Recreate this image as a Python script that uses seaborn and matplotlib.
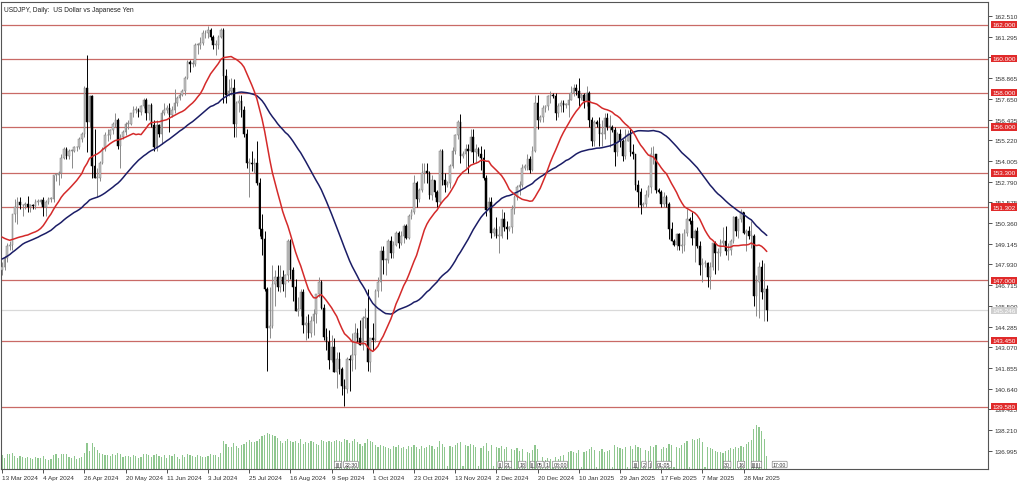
import numpy as np
import pandas as pd
import matplotlib
matplotlib.use("Agg")
import matplotlib.pyplot as plt
import matplotlib.transforms as mtransforms
import seaborn as sns

# USDJPY daily bars, 13 Mar 2024 .. 10 Apr 2025 (broker adds short sunday bars Nov..Mar)
opens = [
    147.6, 147.8, 148.3, 149.0, 149.1, 150.9, 151.3, 151.6, 151.4, 151.4,
    151.5, 151.3, 151.4, 151.35, 151.6, 151.6, 151.7, 151.3, 151.6, 151.8,
    151.8, 153.2, 153.2, 153.3, 154.2, 154.7, 154.3, 154.6, 154.6, 154.8,
    154.8, 155.3, 155.6, 158.3, 156.3, 157.8, 153.7, 153.0, 153.0, 153.9,
    154.7, 155.5, 155.5, 155.8, 156.2, 156.4, 154.9, 155.4, 155.7, 156.2,
    156.2, 156.8, 157.0, 157.0, 156.9, 157.2, 157.6, 156.8, 157.3, 156.1,
    154.8, 156.1, 155.6, 156.8, 157.0, 157.1, 156.7, 157.0, 157.4, 157.7,
    157.9, 158.1, 158.9, 159.8, 159.7, 159.7, 160.8, 160.8, 160.9, 161.5,
    161.5, 161.7, 161.3, 160.8, 160.8, 161.3, 161.7, 159.0, 157.9, 158.1,
    158.3, 156.2, 157.4, 157.5, 157.0, 155.6, 153.9, 153.9, 153.8, 153.9,
    152.7, 150.0, 149.4, 146.5, 144.2, 144.3, 146.8, 147.2, 146.6, 147.2,
    146.8, 147.3, 149.3, 147.6, 146.6, 145.2, 145.3, 146.3, 144.4, 144.5,
    143.9, 144.6, 145.0, 146.2, 146.9, 145.4, 143.7, 143.4, 142.3, 143.1,
    141.6, 142.4, 141.8, 140.8, 140.6, 142.4, 142.3, 142.6, 143.9, 143.6,
    143.2, 144.8, 144.8, 142.2, 143.6, 143.5, 146.4, 146.9, 148.7, 148.2,
    148.2, 149.3, 148.6, 149.1, 149.8, 149.2, 149.6, 150.2, 149.5, 150.8,
    151.0, 152.7, 151.8, 152.3, 153.3, 153.4, 153.3, 152.0, 152.9, 152.2,
    151.6, 154.6, 152.9, 152.6, 152.7, 153.7, 154.6, 155.5, 156.3, 154.3,
    154.4, 154.7, 154.6, 155.4, 154.5, 154.7, 154.4, 154.2, 153.0, 151.1,
    151.6, 149.8, 150.0, 149.6, 149.6, 150.6, 150.1, 150.0, 150.1, 151.2,
    151.9, 152.5, 152.6, 153.6, 153.7, 154.1, 153.5, 154.6, 157.4, 156.4,
    156.6, 157.1, 157.2, 157.8, 157.9, 157.8, 156.8, 157.2, 157.4, 157.3,
    157.3, 157.6, 158.0, 158.3, 158.1, 157.7, 157.9, 157.5, 158.0, 156.4,
    155.2, 156.3, 156.2, 155.6, 155.6, 156.5, 156.0, 156.0, 155.8, 154.5,
    155.6, 155.2, 154.3, 155.2, 155.6, 154.5, 154.4, 152.6, 152.2, 151.4,
    151.5, 152.0, 152.5, 154.4, 154.4, 152.3, 152.2, 151.5, 151.9, 151.5,
    150.0, 149.3, 149.1, 149.7, 149.0, 149.1, 149.8, 150.6, 150.5, 149.5,
    149.9, 149.0, 147.9, 148.0, 148.0, 147.2, 147.8, 149.2, 148.6, 148.6,
    149.2, 149.3, 148.7, 148.8, 149.3, 150.7, 149.9, 150.6, 151.0, 149.8,
    149.9, 149.6, 149.6, 146.1, 146.9, 147.8, 146.3, 146.5,
]
highs = [
    148.1, 148.4, 149.2, 149.3, 150.9, 151.8, 151.9, 151.9, 151.5, 151.6,
    151.97, 151.5, 151.5, 151.8, 151.8, 151.8, 151.9, 151.7, 151.9, 151.9,
    153.2, 153.3, 153.4, 154.4, 154.8, 154.8, 154.7, 154.7, 154.9, 154.9,
    155.4, 155.7, 158.4, 160.2, 157.9, 157.9, 155.9, 153.6, 154.0, 154.8,
    155.7, 155.9, 155.9, 156.3, 156.8, 156.5, 155.6, 155.8, 156.3, 156.4,
    156.8, 157.2, 157.2, 157.1, 157.3, 157.7, 157.7, 157.3, 157.4, 156.4,
    156.4, 156.2, 157.0, 157.4, 157.3, 157.4, 157.2, 158.2, 157.8, 158.0,
    158.2, 159.0, 159.9, 159.9, 159.9, 160.9, 160.9, 161.3, 161.7, 161.7,
    161.95, 161.8, 161.4, 161.1, 161.4, 161.8, 161.8, 159.4, 158.8, 158.9,
    158.8, 157.5, 157.9, 157.9, 157.2, 155.9, 154.2, 154.6, 154.2, 155.2,
    153.0, 150.9, 149.9, 146.6, 146.6, 147.9, 147.6, 147.9, 147.9, 147.6,
    147.4, 149.4, 149.4, 147.8, 147.1, 146.0, 146.5, 146.5, 144.9, 145.0,
    144.9, 145.3, 146.2, 147.2, 147.0, 145.6, 144.2, 144.1, 143.8, 143.6,
    142.8, 142.8, 141.9, 141.2, 142.5, 142.6, 143.9, 144.5, 144.2, 144.7,
    144.9, 145.4, 146.5, 143.5, 144.5, 146.5, 147.2, 149.0, 149.0, 148.3,
    149.4, 149.6, 149.3, 149.9, 149.9, 149.9, 150.3, 150.3, 150.9, 151.2,
    153.2, 152.8, 152.4, 153.9, 153.9, 153.9, 153.4, 153.2, 152.9, 152.3,
    154.7, 154.7, 153.3, 152.8, 153.8, 154.8, 155.6, 156.4, 156.75, 154.6,
    155.0, 155.0, 155.9, 155.9, 155.0, 154.8, 154.9, 154.7, 153.2, 151.9,
    151.9, 150.1, 150.7, 150.2, 151.2, 151.0, 150.5, 150.2, 151.4, 152.0,
    152.6, 152.8, 153.8, 153.8, 154.4, 154.3, 154.9, 157.9, 157.9, 156.7,
    157.3, 157.3, 157.9, 158.1, 158.0, 158.0, 157.4, 157.6, 157.6, 157.4,
    158.0, 158.4, 158.5, 158.5, 158.9, 158.0, 158.0, 158.4, 158.1, 156.6,
    156.4, 156.4, 156.6, 156.4, 156.8, 156.8, 156.7, 156.1, 156.0, 155.7,
    155.9, 155.3, 155.9, 155.8, 155.9, 155.0, 154.4, 152.9, 152.4, 151.6,
    152.3, 152.6, 154.8, 154.9, 154.4, 152.4, 152.3, 152.2, 152.0, 151.6,
    150.4, 149.4, 149.8, 149.8, 149.8, 150.0, 151.2, 150.7, 151.0, 150.0,
    150.1, 149.3, 148.3, 148.2, 148.1, 148.1, 149.2, 149.3, 148.9, 149.4,
    150.1, 150.2, 149.2, 149.4, 150.8, 150.8, 150.6, 151.2, 151.0, 150.0,
    150.2, 150.5, 149.7, 147.3, 148.1, 148.2, 148.0, 146.7,
]
lows = [
    147.3, 147.6, 148.1, 148.8, 148.8, 150.4, 150.3, 151.2, 150.8, 151.2,
    151.0, 151.0, 151.2, 151.2, 151.4, 151.5, 150.8, 150.8, 151.5, 151.6,
    151.6, 152.8, 152.6, 153.0, 154.1, 154.1, 154.1, 153.6, 154.5, 154.6,
    154.7, 155.1, 155.4, 154.5, 156.0, 153.0, 153.0, 151.9, 152.8, 153.8,
    154.6, 155.2, 155.3, 155.6, 156.0, 154.7, 153.6, 155.3, 155.5, 155.9,
    156.1, 156.6, 156.8, 156.6, 156.7, 157.1, 156.4, 156.4, 156.0, 154.6,
    154.6, 155.4, 155.0, 156.7, 156.8, 155.7, 156.6, 156.8, 157.2, 157.6,
    157.8, 157.9, 158.8, 159.2, 159.5, 159.6, 160.3, 160.6, 160.8, 161.2,
    161.2, 161.1, 160.6, 160.2, 160.6, 161.2, 157.4, 157.4, 157.8, 157.9,
    155.4, 155.4, 156.9, 156.6, 155.4, 153.6, 151.9, 153.4, 153.3, 152.6,
    149.6, 148.5, 146.4, 141.7, 143.6, 144.2, 145.5, 146.4, 146.3, 146.4,
    146.0, 146.9, 147.1, 145.8, 145.2, 144.9, 144.9, 143.9, 143.5, 143.6,
    143.7, 143.8, 144.5, 146.0, 145.3, 143.5, 142.9, 141.8, 142.2, 141.6,
    140.7, 141.5, 140.3, 139.6, 140.4, 140.5, 141.7, 141.8, 143.4, 143.2,
    142.9, 144.2, 141.7, 141.6, 142.9, 143.4, 146.0, 146.4, 147.4, 147.3,
    148.0, 148.3, 148.3, 149.0, 148.9, 149.1, 149.2, 149.4, 149.4, 150.6,
    150.9, 151.3, 151.6, 152.2, 152.7, 152.7, 151.8, 151.7, 151.9, 151.3,
    151.5, 152.6, 152.2, 152.5, 152.4, 153.6, 154.4, 155.3, 153.9, 154.2,
    153.6, 153.3, 154.5, 153.9, 153.9, 154.3, 153.5, 152.9, 150.8, 151.0,
    149.5, 149.6, 149.5, 148.6, 149.5, 149.9, 149.4, 149.9, 149.8, 150.9,
    151.7, 152.0, 152.5, 153.5, 153.5, 153.3, 153.4, 154.5, 155.9, 156.3,
    156.3, 156.9, 157.0, 157.4, 157.7, 156.4, 156.6, 156.9, 156.9, 157.1,
    156.6, 157.6, 157.8, 157.9, 157.2, 157.6, 157.1, 157.2, 156.0, 154.9,
    154.9, 156.0, 154.9, 154.9, 155.3, 155.8, 154.8, 155.7, 153.7, 154.3,
    154.8, 154.0, 154.1, 155.2, 154.3, 154.1, 152.3, 151.3, 150.9, 151.3,
    151.3, 151.9, 152.1, 153.8, 152.1, 152.1, 151.3, 151.3, 151.3, 149.4,
    149.3, 149.0, 148.8, 148.8, 148.6, 148.7, 149.6, 150.3, 149.1, 148.1,
    148.9, 147.3, 146.9, 147.8, 146.6, 146.5, 147.6, 147.4, 147.6, 148.4,
    149.0, 148.5, 148.2, 148.5, 149.2, 149.6, 149.5, 150.4, 149.7, 148.7,
    149.4, 148.9, 145.5, 144.9, 144.8, 145.9, 144.6, 144.6,
]
closes = [
    147.8, 148.3, 149.0, 149.1, 150.9, 151.3, 151.6, 151.4, 151.4, 151.5,
    151.3, 151.4, 151.35, 151.6, 151.6, 151.7, 151.3, 151.6, 151.8, 151.8,
    153.2, 153.2, 153.3, 154.2, 154.7, 154.3, 154.6, 154.6, 154.8, 154.8,
    155.3, 155.6, 158.3, 156.3, 157.8, 153.7, 153.0, 153.0, 153.9, 154.7,
    155.5, 155.5, 155.8, 156.2, 156.4, 154.9, 155.4, 155.7, 156.2, 156.2,
    156.8, 157.0, 157.0, 156.9, 157.2, 157.6, 156.8, 157.3, 156.1, 154.8,
    156.1, 155.6, 156.8, 157.0, 157.1, 156.7, 157.0, 157.4, 157.7, 157.9,
    158.1, 158.9, 159.8, 159.7, 159.7, 160.8, 160.8, 160.9, 161.5, 161.5,
    161.7, 161.3, 160.8, 160.8, 161.3, 161.7, 159.0, 157.9, 158.1, 158.3,
    156.2, 157.4, 157.5, 157.0, 155.6, 153.9, 153.9, 153.8, 153.9, 152.7,
    150.0, 149.4, 146.5, 144.2, 144.3, 146.8, 147.2, 146.6, 147.2, 146.8,
    147.3, 149.3, 147.6, 146.6, 145.2, 145.3, 146.3, 144.4, 144.5, 143.9,
    144.6, 145.0, 146.2, 146.9, 145.4, 143.7, 143.4, 142.3, 143.1, 141.6,
    142.4, 141.8, 140.8, 140.6, 142.4, 142.3, 142.6, 143.9, 143.6, 143.2,
    144.8, 144.8, 142.2, 143.6, 143.5, 146.4, 146.9, 148.7, 148.2, 148.2,
    149.3, 148.6, 149.1, 149.8, 149.2, 149.6, 150.2, 149.5, 150.8, 151.0,
    152.7, 151.8, 152.3, 153.3, 153.4, 153.3, 152.0, 152.9, 152.2, 151.6,
    154.6, 152.9, 152.6, 152.7, 153.7, 154.6, 155.5, 156.3, 154.3, 154.4,
    154.7, 154.6, 155.4, 154.5, 154.7, 154.4, 154.2, 153.0, 151.1, 151.6,
    149.8, 150.0, 149.6, 149.6, 150.6, 150.1, 150.0, 150.1, 151.2, 151.9,
    152.5, 152.6, 153.6, 153.7, 154.1, 153.5, 154.6, 157.4, 156.4, 156.6,
    157.1, 157.2, 157.8, 157.9, 157.8, 156.8, 157.2, 157.4, 157.3, 157.3,
    157.6, 158.0, 158.3, 158.1, 157.7, 157.9, 157.5, 158.0, 156.4, 155.2,
    156.3, 156.2, 155.6, 155.6, 156.5, 156.0, 156.0, 155.8, 154.5, 155.6,
    155.2, 154.3, 155.2, 155.6, 154.5, 154.4, 152.6, 152.2, 151.4, 151.5,
    152.0, 152.5, 154.4, 154.4, 152.3, 152.2, 151.5, 151.9, 151.5, 150.0,
    149.3, 149.1, 149.7, 149.0, 149.1, 149.8, 150.6, 150.5, 149.5, 149.9,
    149.0, 147.9, 148.0, 148.0, 147.2, 147.8, 149.2, 148.6, 148.6, 149.2,
    149.3, 148.7, 148.8, 149.3, 150.7, 149.9, 150.6, 151.0, 149.8, 149.9,
    149.6, 149.6, 146.1, 146.9, 147.8, 146.3, 146.5, 145.246,
]
# tick volume (arbitrary units)
volumes = [
    14, 11, 15, 15, 16, 13, 11, 13, 12, 11,
    12, 11, 10, 12, 11, 11, 13, 10, 9, 10,
    14, 15, 11, 15, 15, 15, 12, 11, 13, 10,
    11, 12, 16, 26, 18, 26, 22, 19, 16, 15,
    14, 14, 13, 15, 14, 16, 15, 12, 13, 13,
    12, 14, 13, 11, 12, 15, 15, 14, 12, 14,
    15, 13, 12, 14, 11, 14, 13, 15, 12, 10,
    14, 12, 15, 14, 13, 12, 14, 13, 12, 12,
    13, 15, 14, 14, 12, 16, 28, 25, 22, 22,
    26, 23, 21, 24, 25, 27, 29, 27, 27, 28,
    30, 33, 34, 36, 35, 34, 33, 31, 28, 26,
    28, 30, 28, 27, 28, 26, 30, 25, 27, 26,
    28, 27, 25, 24, 29, 28, 27, 28, 27, 28,
    29, 28, 27, 30, 29, 26, 28, 30, 27, 25,
    23, 26, 30, 28, 27, 24, 22, 24, 23, 22,
    21, 20, 23, 22, 24, 21, 22, 20, 23, 22,
    24, 22, 20, 23, 21, 22, 24, 23, 20, 22,
    28, 25, 22, 3, 23, 22, 24, 26, 27, 3,
    24, 23, 25, 24, 22, 3, 21, 23, 26, 18,
    24, 3, 22, 21, 23, 20, 22, 3, 20, 19,
    21, 18, 20, 3, 17, 16, 19, 24, 20, 2,
    12, 9, 11, 10, 2, 12, 10, 13, 14, 2,
    17, 18, 17, 16, 19, 2, 17, 18, 20, 22,
    19, 2, 18, 20, 17, 18, 19, 2, 24, 22,
    21, 20, 22, 2, 23, 20, 24, 22, 21, 2,
    19, 18, 23, 22, 24, 2, 20, 22, 21, 25,
    24, 2, 22, 21, 24, 26, 28, 2, 30, 29,
    30, 31, 27, 2, 22, 21, 20, 18, 17, 17,
    16, 18, 19, 21, 20, 22, 21, 23, 22, 25,
    27, 29, 40, 44, 42, 38, 30, 13,
]
# closes before 13 Mar 2024, only used to warm up the moving averages
pre_closes = [
    143.3, 144.6, 144.6, 144.2, 144.4, 145.7, 145.3, 144.9, 145.7, 147.2,
    148.2, 148.2, 148.1, 148.1, 148.4, 147.5, 147.6, 148.1, 147.4, 147.6,
    146.9, 146.4, 148.4, 148.7, 147.9, 148.2, 149.3, 149.3, 149.4, 150.8,
    150.6, 149.9, 150.2, 150.1, 150.0, 150.3, 150.5, 150.5, 150.7, 150.5,
    150.7, 150.0, 150.1, 150.5, 150.0, 149.4, 148.0, 147.1, 146.9, 147.6,
]

date_labels = ["13 Mar 2024", "4 Apr 2024", "26 Apr 2024", "20 May 2024", "11 Jun 2024",
               "3 Jul 2024", "25 Jul 2024", "16 Aug 2024", "9 Sep 2024", "1 Oct 2024",
               "23 Oct 2024", "13 Nov 2024", "2 Dec 2024", "20 Dec 2024", "10 Jan 2025",
               "29 Jan 2025", "17 Feb 2025", "7 Mar 2025", "28 Mar 2025"]
price_ticks = [162.510, 161.295, 160.080, 158.865, 157.650, 156.435, 155.220, 154.005,
               152.790, 151.575, 150.360, 149.145, 147.930, 146.715, 145.500, 144.285,
               143.070, 141.855, 140.640, 139.425, 138.210, 136.995]
levels = [162.0, 160.0, 158.0, 156.0, 153.3, 151.302, 147.0, 143.45, 139.58]
last_price = 145.246
# calendar event markers along the bottom (bar, text)
events = [(130.5, "||||"), (135.5, "22:30"), (193.5, "||"), (196.5, "21"), (202, "18"),
          (206, "||"), (209, "05"), (211.7, "1"), (216.7, "08:00"), (246, "|||"),
          (249.3, "2"), (251.6, "|"), (257, "01:05"), (281.6, "30"), (287, "16"),
          (293, "||||||"), (302, "17:00")]

n = len(closes)
assert len(opens) == n and len(highs) == n and len(lows) == n and len(volumes) == n
bars = np.arange(n)
o = np.array(opens)
h = np.array(highs)
l = np.array(lows)
c = np.array(closes)

all_closes = pd.Series(pre_closes + closes)
df = pd.DataFrame({
    "bar": bars,
    "ma20": all_closes.rolling(20).mean().values[-n:],
    "ma50": all_closes.rolling(50).mean().values[-n:],
})

sns.set_theme(style="white")
plt.rcParams['font.family'] = ['Liberation Sans', 'DejaVu Sans']

fig = plt.figure(figsize=(10.24, 4.85), dpi=100)
ax = fig.add_axes([1 / 1024, 15 / 485, 987 / 1024, 467 / 485])

bar_px = 2.575   # pixels per bar
x0_px = 2.0      # pixel of first bar
ax.set_xlim((1 - x0_px) / bar_px, (988 - x0_px) / bar_px)
ax.set_ylim(135.93, 163.33)

# volume in the same pane, behind price
vax = ax.twinx()
vax.set_ylim(0, 467)
vax.bar(bars, volumes, width=0.45, color="#8fc78f", linewidth=0)
vax.set_yticks([])
for sp in vax.spines.values():
    sp.set_visible(False)
ax.set_zorder(vax.get_zorder() + 1)
ax.patch.set_visible(False)

# levels
for v in levels:
    ax.axhline(v, color="#c96a66", lw=0.9, zorder=1)
ax.axhline(last_price, color="#d9d9d9", lw=0.9, zorder=1)

# candles
up = c >= o
wick_col = np.where(up, "#8a8a8a", "#000000")
ax.vlines(bars, l, h, colors=wick_col, lw=0.7, zorder=3)
body_lo = np.minimum(o, c)
body_h = np.maximum(np.abs(c - o), 0.04)
ax.bar(bars[up], body_h[up], bottom=body_lo[up], width=0.62, color="#c4c4c4",
       edgecolor="#7d7d7d", linewidth=0.35, zorder=4)
ax.bar(bars[~up], body_h[~up], bottom=body_lo[~up], width=0.62, color="#000000",
       edgecolor="#000000", linewidth=0.35, zorder=4)

# moving averages
sns.lineplot(data=df, x="bar", y="ma50", ax=ax, color="#1b1d66", lw=1.1, estimator=None, zorder=5)
sns.lineplot(data=df, x="bar", y="ma20", ax=ax, color="#d42a2a", lw=1.1, estimator=None, zorder=6)

# axes cosmetics
ax.yaxis.tick_right()
ax.set_yticks(price_ticks)
ax.set_yticklabels([f"{t:.3f}" for t in price_ticks])
ax.set_xticks(bars[::16][:len(date_labels)])
ax.set_xticklabels(date_labels, ha="left")
ax.tick_params(axis="y", which="both", right=True, left=False, length=3, width=0.6,
               pad=1.5, labelsize=4.6, colors="#333333")
ax.tick_params(axis="x", which="both", bottom=True, length=3, width=0.6,
               pad=1.2, labelsize=4.6, colors="#333333")
ax.set_xlabel("")
ax.set_ylabel("")
for sp in ax.spines.values():
    sp.set_color("#555555")
    sp.set_linewidth(0.8)

# price labels for the levels on the right scale
trans = mtransforms.blended_transform_factory(ax.transAxes, ax.transData)
for v in levels:
    ax.text(1.0045, v, f"{v:.3f}", transform=trans, ha="left", va="center", fontsize=4.6,
            color="white", clip_on=False, zorder=10,
            bbox=dict(boxstyle="square,pad=0.18", fc="#e02a2a", ec="none"))
ax.text(1.0045, last_price, f"{last_price:.3f}", transform=trans, ha="left", va="center",
        fontsize=4.6, color="white", clip_on=False, zorder=10,
        bbox=dict(boxstyle="square,pad=0.18", fc="#cfcfcf", ec="none"))

# event markers
for b, txt in events:
    vax.text(b, 4.5, txt, ha="center", va="center", fontsize=3.8, color="#333333",
             clip_on=False, zorder=8,
             bbox=dict(boxstyle="round,pad=0.15", fc="white", ec="#666666", lw=0.4))

ax.text(0.003, 0.992, "USDJPY, Daily:  US Dollar vs Japanese Yen", transform=ax.transAxes,
        ha="left", va="top", fontsize=4.8, color="#222222")

fig.savefig("out.png", dpi=100)
plt.close(fig)
